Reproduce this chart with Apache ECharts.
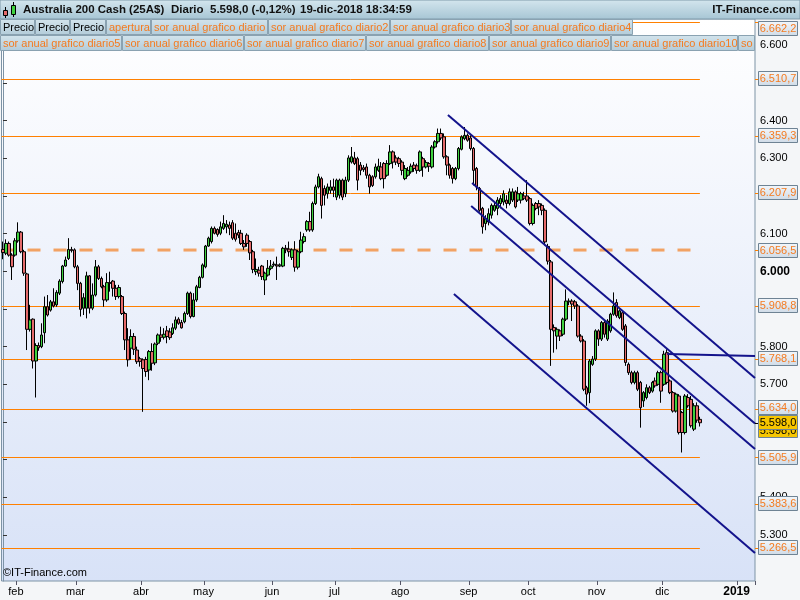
<!DOCTYPE html>
<html><head><meta charset="utf-8">
<script src="https://cdn.jsdelivr.net/npm/echarts@6/dist/echarts.min.js"></script>
<style>html,body{margin:0;padding:0;background:#f4f6f8}#c{width:800px;height:600px}</style>
</head><body><div id="c"></div>
<script>
// ---- DATA : daily candles [open, close, low, high] ----
const jan18 = [[6058,6050,6032,6079],[6048,6074,6043,6085],[6074,6043,6039,6079],[6043,6012,5977,6048],[6043,6081,6039,6088]];
const feb18 = [[6081,6104,6076,6130],[6104,6052,6048,6107],[6052,5995,5988,6057],[5993,5846,5791,5996],[5846,5871,5840,5911],
[5873,5762,5742,5875],[5762,5803,5665,5809],[5803,5797,5789,5811],[5800,5831,5796,5862],[5837,5906,5809,5933],
[5906,5884,5880,5937],[5897,5919,5893,5924],[5919,5908,5904,5955],[5911,5944,5906,5950],[5942,5974,5937,5979],
[5973,6014,5968,6017],[6014,6030,6012,6039],[6034,6058,6030,6088],[6058,6055,6050,6065],[6057,6012,6008,6061]];
const mar18 = [[6012,5968,5950,6017],[5968,5899,5880,5972],[5902,5930,5884,5942],[5902,5988,5875,5999],[5988,5902,5888,5990],
[5902,5937,5897,5968],[5937,6012,5933,6030],[6012,5981,5977,6017],[5981,5959,5955,5986],[5959,5924,5906,5964],
[5924,5970,5919,5995],[5970,5968,5946,5999],[5974,5955,5933,5977],[5955,5933,5924,5964],[5933,5957,5928,5964],
[5933,5888,5884,5937],[5888,5818,5791,5893],[5818,5765,5747,5849],[5796,5827,5765,5846],[5827,5793,5778,5836],
[5791,5760,5754,5800],[5768,5761,5747,5773]];
const apr18 = [[5765,5742,5627,5769],[5766,5734,5720,5773],[5738,5787,5711,5791],[5787,5756,5736,5809],[5757,5807,5751,5811],
[5809,5831,5804,5835],[5831,5825,5813,5853],[5825,5833,5819,5849],[5842,5827,5809,5855],[5839,5824,5818,5849],
[5835,5850,5831,5862],[5849,5871,5844,5880],[5873,5862,5858,5878],[5864,5850,5848,5871],[5866,5888,5862,5893],
[5888,5942,5884,5946],[5942,5880,5875,5946],[5880,5924,5878,5942],[5924,5959,5919,5964],[5957,5984,5955,5988],
[5984,6017,5981,6021]];
const may18 = [[6012,6067,6008,6070],[6067,6088,6065,6092],[6079,6114,6074,6119],[6114,6101,6098,6119],[6111,6098,6092,6114],
[6101,6118,6096,6132],[6114,6127,6110,6149],[6118,6125,6101,6136],[6123,6114,6096,6132],[6129,6088,6083,6136],
[6101,6085,6079,6127],[6103,6096,6088,6110],[6101,6074,6070,6110],[6074,6065,6057,6083],[6096,6074,6065,6101],
[6079,6049,6030,6083],[6052,6005,5995,6057],[5999,6005,5990,6034],[6003,5995,5986,6012],[6014,5986,5977,6017],
[5977,5995,5937,5999],[5990,6008,5986,6030],[6008,6014,6003,6030]];
const jun18 = [[6017,6019,6012,6026],[6017,6014,5977,6039],[6014,6017,6011,6021],[6014,6061,6011,6065],[6061,6057,6048,6070],
[6059,6052,6039,6079],[6037,6057,6030,6061],[6057,6011,5999,6080],[6011,6052,6005,6057],[6052,6083,6048,6105],
[6079,6092,6074,6101],[6110,6132,6105,6136],[6132,6110,6105,6158],[6110,6180,6105,6185],[6180,6224,6176,6230],
[6224,6251,6220,6259],[6246,6175,6140,6251],[6220,6202,6175,6228],[6206,6224,6193,6233],[6215,6224,6206,6242],
[6224,6215,6197,6246]];
const jul18 = [[6197,6242,6189,6246],[6202,6242,6193,6246],[6242,6197,6189,6246],[6206,6242,6197,6251],[6242,6301,6237,6308],
[6290,6304,6286,6330],[6301,6286,6282,6317],[6299,6242,6215,6304],[6282,6268,6255,6290],[6275,6270,6264,6282],
[6277,6255,6246,6286],[6255,6224,6206,6259],[6251,6228,6224,6255],[6251,6277,6246,6286],[6268,6279,6264,6299],
[6277,6246,6242,6290],[6286,6246,6220,6290],[6255,6286,6251,6295],[6286,6317,6282,6335],[6317,6290,6273,6321],
[6301,6290,6282,6308],[6299,6286,6277,6304]];
const aug18 = [[6290,6268,6255,6295],[6246,6273,6242,6282],[6255,6268,6251,6277],[6264,6279,6259,6286],[6282,6273,6264,6290],
[6280,6268,6259,6286],[6268,6317,6264,6321],[6299,6277,6251,6304],[6277,6289,6273,6295],[6286,6279,6264,6290],
[6277,6330,6273,6335],[6330,6344,6326,6348],[6344,6366,6339,6379],[6366,6354,6348,6379],[6357,6304,6299,6366],
[6304,6282,6255,6308],[6282,6255,6246,6286],[6273,6246,6233,6277],[6246,6273,6242,6277],[6273,6326,6268,6330],
[6324,6357,6321,6361],[6352,6361,6348,6383],[6361,6348,6344,6366]];
const sep18 = [[6354,6326,6321,6361],[6326,6268,6228,6330],[6273,6224,6215,6277],[6220,6162,6158,6224],[6167,6118,6100,6171],
[6127,6140,6109,6149],[6131,6153,6122,6167],[6149,6175,6140,6180],[6162,6175,6158,6184],[6167,6189,6149,6197],
[6180,6193,6167,6202],[6184,6206,6175,6215],[6189,6180,6167,6202],[6180,6211,6175,6220],[6189,6211,6184,6220],
[6211,6171,6167,6215],[6189,6206,6184,6224],[6189,6206,6180,6211],[6200,6194,6189,6211],[6200,6189,6184,6242]];
const oct18 = [[6193,6127,6122,6197],[6127,6175,6122,6180],[6180,6167,6162,6184],[6180,6171,6149,6189],[6175,6162,6149,6180],
[6162,6078,6069,6167],[6066,6027,6018,6073],[6025,5846,5749,6030],[5851,5842,5784,5859],[5828,5846,5793,5851],
[5842,5828,5815,5846],[5833,5873,5828,5877],[5873,5921,5868,5952],[5919,5921,5910,5928],[5921,5913,5868,5926],
[5919,5908,5900,5924],[5908,5828,5824,5913],[5828,5815,5811,5833],[5815,5687,5682,5820],[5691,5674,5643,5696],
[5678,5762,5650,5767],[5753,5767,5749,5775],[5767,5842,5762,5846]];
const nov18 = [[5842,5820,5802,5846],[5820,5864,5815,5868],[5864,5833,5824,5868],[5820,5868,5815,5873],[5842,5886,5837,5890],
[5886,5908,5882,5944],[5917,5882,5877,5926],[5877,5895,5873,5899],[5890,5846,5842,5895],[5855,5758,5749,5860],
[5753,5731,5725,5758],[5731,5705,5700,5736],[5705,5731,5700,5736],[5731,5687,5682,5736],[5705,5638,5585,5709],
[5656,5678,5640,5682],[5665,5691,5660,5700],[5691,5678,5674,5696],[5682,5705,5678,5709],[5709,5696,5691,5718],
[5700,5731,5696,5736],[5731,5682,5651,5736]];
const dec18 = [[5700,5780,5696,5789],[5784,5705,5700,5793],[5709,5678,5674,5713],[5678,5629,5625,5682],[5629,5674,5625,5678],
[5669,5572,5567,5674],[5625,5572,5519,5629],[5572,5669,5567,5674],[5665,5643,5638,5674],[5660,5590,5585,5669],
[5581,5643,5576,5650],[5643,5605,5598,5652],[5607,5598,5588,5614]];

const firstDay = '2018-01-25';           // first candle (weekdays only)
const futureDays = 18;                    // empty calendar days after last candle
const srLevels = [6662.2, 6510.7, 6359.3, 6207.9, 5908.8, 5768.1, 5634.0, 5505.9, 5383.6, 5266.5];
const aperturaLevel = 6056.5;
const lastPrice = 5598.0;
const yTickValues = [5300,5400,5500,5600,5700,5800,5900,6000,6100,6200,6300,6400,6500,6600];
const monthNames = ['ene','feb','mar','abr','may','jun','jul','ago','sep','oct','nov','dic'];
// trendlines: [[candle index, price], [candle index, price]]
const trendlines = [
  [[149.4, 6415.0], [252.5, 5716.8]],
  [[157.5, 6234.5], [252.5, 5596.0]],
  [[157.2, 6173.4], [252.5, 5528.4]],
  [[151.4, 5939.8], [252.5, 5252.3]],
  [[223.0, 5780.5], [252.5, 5775.2]]
];
const headerTitle = 'Australia 200 Cash (25A$)';
const headerPeriod = 'Diario';
const headerPrice = '5.598,0 (-0,12%)';
const headerTime = '19-dic-2018 18:34:59';
const legendRow1 = ['Precio','Precio','Precio','apertura','sor anual grafico diario','sor anual grafico diario2','sor anual grafico diario3','sor anual grafico diario4'];
const legendRow2 = ['sor anual grafico diario5','sor anual grafico diario6','sor anual grafico diario7','sor anual grafico diario8','sor anual grafico diario9','sor anual grafico diario10','sor anual grafico diario11'];

// ---- build ----
const candles = [].concat(jan18, feb18, mar18, apr18, may18, jun18, jul18, aug18, sep18, oct18, nov18, dec18);
function pad(n){return n<10?'0'+n:''+n;}
function iso(d){return d.getUTCFullYear()+'-'+pad(d.getUTCMonth()+1)+'-'+pad(d.getUTCDate());}
const cats = [];
let d = new Date(firstDay+'T00:00:00Z');
while (cats.length < candles.length) {
  const wd = d.getUTCDay();
  if (wd !== 0 && wd !== 6) cats.push(iso(d));
  d = new Date(d.getTime() + 86400000);
}
for (let k = 0; k < futureDays; k++) { cats.push(iso(d)); d = new Date(d.getTime() + 86400000); }
const N = cats.length;
const lastIdx = candles.length - 1;
function isMonthStart(i){ return i > 0 && cats[i].slice(0,7) !== cats[i-1].slice(0,7); }

const FONT = '"Liberation Sans", Arial, Helvetica, sans-serif';
const ORANGE = '#ff8000';
function fmtNum(v, dec){
  const s = v.toFixed(dec); const parts = s.split('.');
  const ip = parts[0].replace(/\B(?=(\d{3})+(?!\d))/g, '.');
  return parts.length > 1 ? ip + ',' + parts[1] : ip;
}

const chart = echarts.init(document.getElementById('c'), null, {renderer:'canvas', width:800, height:600});

const series = [];
series.push({
  type:'line', xAxisIndex:1, yAxisIndex:0, data:[[-0.5, aperturaLevel],[lastIdx, aperturaLevel]], symbol:'none', silent:true,
  lineStyle:{color:'rgba(242,130,40,0.72)', width:3, type:[13,13]}, z:1, animation:false
});
series.push({
  type:'candlestick', xAxisIndex:0, yAxisIndex:0, data:candles, barWidth:3, z:2, animation:false,
  itemStyle:{color:'#3fd13f', color0:'#e46a6a', borderColor:'#000', borderColor0:'#000', borderWidth:1}
});
trendlines.forEach(t => series.push({
  type:'line', xAxisIndex:1, yAxisIndex:0, data:t, symbol:'none', silent:true,
  lineStyle:{color:'#13138c', width:2}, z:3, animation:false
}));

const option = {
  backgroundColor:'#f4f6f8',
  animation:false,
  grid:{left:1.5, right:45, top:19, bottom:19, show:true,
    backgroundColor:new echarts.graphic.LinearGradient(0,0,0,1,[{offset:0,color:'#ffffff'},{offset:1,color:'#d8e2f7'}]),
    borderColor:'#7d93a5', borderWidth:1},
  xAxis:[{
    type:'category', data:cats, boundaryGap:true, gridIndex:0,
    axisLine:{show:false},
    axisTick:{show:true, alignWithLabel:false, interval:(i)=>isMonthStart(i), length:4, lineStyle:{color:'#556'}},
    axisLabel:{interval:(i)=>isMonthStart(i), margin:5, padding:[0,4,0,0], fontFamily:FONT, fontSize:11, color:'#000',
      formatter:(v)=>{ const m = +v.slice(5,7); return m === 1 ? '{y|'+v.slice(0,4)+'}' : monthNames[m-1]; },
      rich:{y:{fontWeight:'bold', fontSize:12, fontFamily:FONT, color:'#000'}}},
    splitLine:{show:false}
  },{
    type:'value', gridIndex:0, min:-0.5, max:N-0.5, show:false
  }],
  yAxis:[{
    type:'value', position:'right', min:5177.9, max:6669.8, scale:true,
    axisLine:{show:true, lineStyle:{color:'#7d93a5'}},
    axisTick:{show:true, length:4, customValues:yTickValues, lineStyle:{color:'#333'}},
    axisLabel:{customValues:yTickValues, margin:5, fontFamily:FONT, fontSize:11, color:'#000',
      formatter:(v)=>{ const s=(v/1000).toFixed(3); return v===6000 ? '{b|'+s+'}' : s; },
      rich:{b:{fontWeight:'bold', fontSize:12, fontFamily:FONT, color:'#000'}}},
    splitLine:{show:false}
  }],
  series:series
};
chart.setOption(option);

// ---- decorations (level lines via the y scale, header, legend cells, value boxes) ----
const G = [];
const grad = (a,b)=>new echarts.graphic.LinearGradient(0,0,0,1,[{offset:0,color:a},{offset:1,color:b}]);
function txt(x,y,text,font,fill,align){
  return {type:'text', z:120, silent:true, style:{x:x, y:y, text:text, font:font, fill:fill,
    align:align||'left', textAlign:align||'left', verticalAlign:'middle', textVerticalAlign:'middle'}};
}
// support/resistance levels: crisp 1px lines from the first slot to the last candle
const xStart = chart.convertToPixel({xAxisIndex:1}, -0.5);
const xEnd = chart.convertToPixel({xAxisIndex:1}, lastIdx);
srLevels.forEach(v => {
  const y = Math.round(chart.convertToPixel({yAxisIndex:0}, v)) + 0.5;
  G.push({type:'line', z:1, silent:true, shape:{x1:xStart, y1:y, x2:xEnd, y2:y}, style:{stroke:ORANGE, lineWidth:1}});
});
// header bar
G.push({type:'rect', z:100, silent:true, shape:{x:0,y:0,width:800,height:19}, style:{fill:grad('#d4e6ee','#a6c5d4'), stroke:'#7f9aaa', lineWidth:1}});
// icon
G.push({type:'line', z:110, silent:true, shape:{x1:5.5,y1:7,x2:5.5,y2:18}, style:{stroke:'#000',lineWidth:1}});
G.push({type:'rect', z:111, silent:true, shape:{x:3.5,y:10.5,width:4,height:5}, style:{fill:'#e46a6a',stroke:'#000',lineWidth:1}});
G.push({type:'line', z:110, silent:true, shape:{x1:13.5,y1:2,x2:13.5,y2:17}, style:{stroke:'#000',lineWidth:1}});
G.push({type:'rect', z:111, silent:true, shape:{x:11.5,y:5.5,width:4,height:9}, style:{fill:'#3fd13f',stroke:'#000',lineWidth:1}});
const hf = 'bold 11.5px ' + FONT;
G.push(txt(23,10,headerTitle,hf,'#111'));
G.push(txt(171,10,headerPeriod,hf,'#111'));
G.push(txt(210,10,headerPrice,hf,'#111'));
G.push(txt(300,10,headerTime,hf,'#111'));
G.push(txt(796,10,'IT-Finance.com',hf,'#111','right'));
// legend cells
const row1X = [0,35,70,106,151,268,390,511,633];
const row2X = [0,122,244,366,489,611,738,860];
function legendRow(labels, xs, y, maxW){
  labels.forEach((lab,k)=>{
    const x0 = xs[k]; if (x0 >= maxW) return;
    const x1 = Math.min(xs[k+1], maxW);
    G.push({type:'rect', z:100, silent:true, shape:{x:x0+0.5,y:y+0.5,width:x1-x0-1,height:15}, style:{fill:grad('#d3e4ec','#b3ccd9'), stroke:'#8aa2b1', lineWidth:1}});
    const t = txt(x0+3, y+8.5, lab, '11px '+FONT, lab==='Precio' ? '#000' : '#f47b20');
    if (x1 < xs[k+1]) { t.style.text = lab.slice(0,2); }
    G.push(t);
  });
}
legendRow(legendRow1, row1X, 19, 755);
legendRow(legendRow2, row2X, 35, 755);
// copyright
G.push({type:'text', z:50, silent:true, style:{x:3, y:573, text:'\u00A9IT-Finance.com', font:'11px '+FONT, fill:'#000', align:'left', textAlign:'left', verticalAlign:'middle', textVerticalAlign:'middle'}});
// value boxes on right axis
function valueBox(v, label, fill, textColor, tickColor, dy, z){
  let y = chart.convertToPixel({yAxisIndex:0}, v);
  const yc = Math.max(y + (dy||0), 28.5);
  G.push({type:'line', z:z, silent:true, shape:{x1:755,y1:Math.round(y)+0.5,x2:758,y2:Math.round(y)+0.5}, style:{stroke:tickColor,lineWidth:1}});
  G.push({type:'rect', z:z, silent:true, shape:{x:758.5,y:Math.round(yc-7.5)+0.5,width:39,height:14}, style:{fill:fill, stroke:'#6e8394', lineWidth:1}});
  G.push(Object.assign(txt(778, Math.round(yc-7.5)+8, label, '11px '+FONT, textColor, 'center'), {z:z+1}));
}
srLevels.forEach(v => {
  const dy = (v === 5634.0) ? -1.5 : 0;
  valueBox(v, fmtNum(v,1), grad('#f3f7fb','#cfdbe7'), '#f47b20', ORANGE, dy, 130);
});
valueBox(aperturaLevel, fmtNum(aperturaLevel,1), grad('#f3f7fb','#cfdbe7'), '#f47b20', ORANGE, 0, 130);
valueBox(lastPrice, fmtNum(lastPrice,1), '#f7c600', '#000', '#000', 8, 140);
valueBox(lastPrice, fmtNum(lastPrice,1), '#f7c600', '#000', '#000', 0, 150);

chart.setOption({graphic:{elements:G}});
</script>
</body></html>
